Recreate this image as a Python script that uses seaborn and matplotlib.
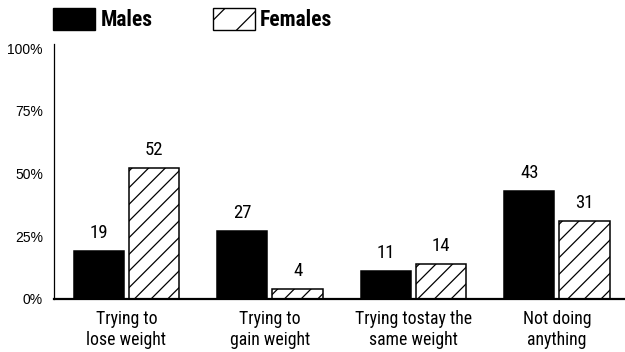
import matplotlib
matplotlib.use("Agg")
import matplotlib.pyplot as plt
import matplotlib.patches as mpatches
import pandas as pd
import seaborn as sns

# Share of respondents (%) by weight goal and sex
categories = [
    "Trying to\nlose weight",
    "Trying to\ngain weight",
    "Trying tostay the\nsame weight",
    "Not doing\nanything",
]
males = [19, 27, 11, 43]
females = [52, 4, 14, 31]
series_names = ["Males", "Females"]
y_ticks = [0, 25, 50, 75, 100]
y_tick_labels = ["0%", "25%", "50%", "75%", "100%"]

NARROW = ["Roboto Condensed", "DejaVu Sans"]

sns.set_style("white")
plt.rcParams["font.family"] = NARROW
plt.rcParams["text.color"] = "black"
plt.rcParams["xtick.color"] = "black"
plt.rcParams["ytick.color"] = "black"
plt.rcParams["hatch.linewidth"] = 0.9
plt.rcParams["hatch.color"] = "black"

df = pd.DataFrame({
    "category": categories * 2,
    "sex": [series_names[0]] * len(categories) + [series_names[1]] * len(categories),
    "value": males + females,
})

fig = plt.figure(figsize=(6.25, 3.52), dpi=100)
ax = fig.add_axes([0.0864, 0.1506, 0.9136, 0.7244])

sns.barplot(
    data=df, x="category", y="value", hue="sex",
    hue_order=series_names, order=categories,
    palette={"Males": "black", "Females": "white"},
    width=0.77, gap=0.09, edgecolor="black", linewidth=1.1,
    legend=False, errorbar=None, ax=ax,
)

# Hatch the female bars
for bar in ax.containers[1]:
    bar.set_hatch("//")

for cont in ax.containers:
    ax.bar_label(cont, fmt="{:.0f}", padding=6.5, fontsize=13.5, color="black")

ax.set_xlim(-0.505, 3.474)
ax.set_ylim(0, 101.6)
ax.set_yticks(y_ticks)
ax.set_yticklabels(y_tick_labels, family=["Liberation Sans", "DejaVu Sans"], fontsize=10)
ax.tick_params(axis="y", length=0, pad=8)
ax.tick_params(axis="x", length=0, pad=8, labelsize=12.8)
ax.set_xlabel("")
ax.set_ylabel("")

for side in ("top", "right"):
    ax.spines[side].set_visible(False)
ax.spines["left"].set_linewidth(0.9)
ax.spines["bottom"].set_linewidth(1.6)
ax.spines["left"].set_color("black")
ax.spines["bottom"].set_color("black")

handles = [
    mpatches.Patch(facecolor="black", edgecolor="black", linewidth=1.0),
    mpatches.Patch(facecolor="white", edgecolor="black", linewidth=1.0, hatch="/"),
]
fig.legend(
    handles, series_names, loc="upper left",
    bbox_to_anchor=(53 / 625, 1 - 8 / 352), ncol=2, frameon=False,
    borderpad=0, borderaxespad=0, handlelength=1.95, handleheight=1.16,
    handletextpad=0.25, columnspacing=2.8,
    prop={"family": NARROW, "weight": "bold", "size": 15.5},
)

fig.savefig("out.png", dpi=100)
